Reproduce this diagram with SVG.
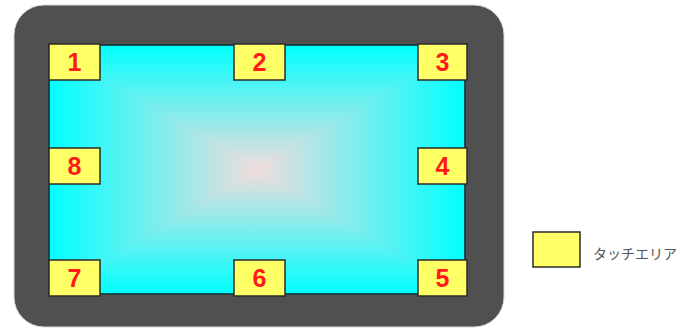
<svg xmlns="http://www.w3.org/2000/svg" width="680" height="329" viewBox="0 0 680 329">
<defs>
<linearGradient id="gT" gradientUnits="userSpaceOnUse" x1="0" y1="45" x2="0" y2="169.5"><stop offset="0" stop-color="#00ffff"/><stop offset="1" stop-color="#f2dcdc"/></linearGradient>
<linearGradient id="gB" gradientUnits="userSpaceOnUse" x1="0" y1="294" x2="0" y2="169.5"><stop offset="0" stop-color="#00ffff"/><stop offset="1" stop-color="#f2dcdc"/></linearGradient>
<linearGradient id="gL" gradientUnits="userSpaceOnUse" x1="49" y1="0" x2="257" y2="0"><stop offset="0" stop-color="#00ffff"/><stop offset="1" stop-color="#f2dcdc"/></linearGradient>
<linearGradient id="gR" gradientUnits="userSpaceOnUse" x1="465" y1="0" x2="257" y2="0"><stop offset="0" stop-color="#00ffff"/><stop offset="1" stop-color="#f2dcdc"/></linearGradient>
</defs>
<style>
.area{fill:#ffff66;stroke:#2a2a2a;stroke-width:1.5}
.num{font-family:"Liberation Sans",Arial,sans-serif;font-weight:bold;font-size:25px;fill:#ff1a1a;text-anchor:middle}
.leg{font-family:"Noto Sans CJK JP","Noto Sans",sans-serif;font-size:14px;fill:#555}
</style>
<g id="device">
<rect x="14" y="5" width="490" height="322" rx="30" ry="30" fill="#505050" stroke="#d8d8d8" stroke-width="1"/>
</g>
<g id="screen">
<polygon points="49,45 465,45 257,169.5" fill="url(#gT)" stroke="url(#gT)" stroke-width="1"/>
<polygon points="49,294 465,294 257,169.5" fill="url(#gB)" stroke="url(#gB)" stroke-width="1"/>
<polygon points="49,45 49,294 257,169.5" fill="url(#gL)" stroke="url(#gL)" stroke-width="1"/>
<polygon points="465,45 465,294 257,169.5" fill="url(#gR)" stroke="url(#gR)" stroke-width="1"/>
<rect x="49" y="45" width="416" height="249" fill="none" stroke="#1a1a1a" stroke-width="1.5"/>
</g>
<g id="connectors"></g>
<g id="area1"><rect class="area" x="49" y="44" width="51" height="36"/><text class="num" x="74.5" y="71">1</text></g>
<g id="area2"><rect class="area" x="234" y="44" width="51" height="36"/><text class="num" x="259.5" y="71">2</text></g>
<g id="area3"><rect class="area" x="418" y="44" width="49" height="36"/><text class="num" x="442.5" y="71">3</text></g>
<g id="area4"><rect class="area" x="418" y="148" width="49" height="36"/><text class="num" x="442.5" y="175">4</text></g>
<g id="area5"><rect class="area" x="418" y="260" width="49" height="36"/><text class="num" x="442.5" y="287">5</text></g>
<g id="area6"><rect class="area" x="234" y="260" width="51" height="36"/><text class="num" x="259.5" y="287">6</text></g>
<g id="area7"><rect class="area" x="49" y="260" width="51" height="36"/><text class="num" x="74.5" y="287">7</text></g>
<g id="area8"><rect class="area" x="49" y="148" width="51" height="36"/><text class="num" x="74.5" y="175">8</text></g>
<g id="legend"><rect class="area" x="533" y="232" width="47" height="35"/><text class="leg" x="593" y="259">タッチエリア</text></g>
</svg>
